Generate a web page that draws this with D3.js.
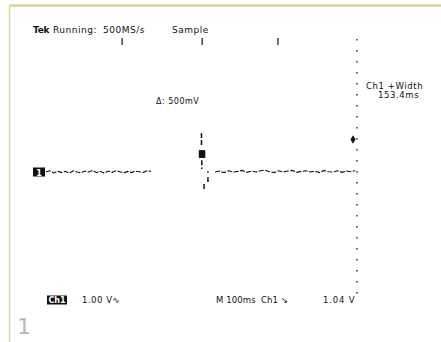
<!DOCTYPE html>
<html>
<head>
<meta charset="utf-8">
<script src="https://cdn.jsdelivr.net/npm/d3@7"></script>
<style>
  html, body { margin: 0; padding: 0; background: #fff; }
  svg { display: block; }
  text { font-family: "DejaVu Sans", sans-serif; }
</style>
</head>
<body>
<script>
// Scope capture: 10 horizontal divisions at 100 ms/div, 8 vertical divisions at 1 V/div
const timeDomain = [0, 1000];        // ms
const voltDomain = [-4, 4];          // V

// Channel 1 trace before the edge (time in ms, level in V)
const preTimes  = [40, 52, 64, 76, 88, 100, 112, 124, 136, 148, 160, 172, 184, 196, 208, 220, 232, 244, 256, 268, 280, 292, 304, 316, 328, 340, 352, 364];
const preVolts  = [0.00, 0.04, -0.03, 0.03, -0.02, 0.02, -0.04, 0.04, 0.00, -0.03, 0.03, 0.00, 0.05, -0.02, 0.02, -0.04, 0.03, -0.01, 0.04, 0.01, -0.03, 0.02, -0.02, 0.03, 0.01, -0.01, 0.04, 0.02];

// Channel 1 trace after the edge
const postTimes = [562, 576, 590, 604, 618, 632, 646, 660, 674, 688, 702, 716, 730, 744, 758, 772, 786, 800, 814, 828, 842, 856, 870, 884, 898, 912, 926, 940, 954, 968, 982, 994];
const postVolts = [0.00, 0.03, -0.02, 0.04, 0.00, 0.02, 0.05, -0.01, 0.03, 0.00, 0.04, 0.06, 0.01, -0.02, 0.04, 0.00, 0.03, 0.05, -0.01, 0.02, 0.04, 0.00, 0.03, -0.02, 0.05, 0.01, 0.00, 0.04, -0.01, 0.03, 0.01, 0.04];

// Vertical excursions around the edge: [time ms, from V, to V]
const edgeStrokes = [
  [520, 1.25, 0.83],
  [521, 0.38, 0.19],
  [540, -0.16, -0.32],
  [528, -0.38, -0.58]
];
const edgeBlock = [521, 0.70, 0.45];   // highlighted sample block on the edge
const edgeDots = [[540, 0.0], [521, 0.12]];

// Trigger position markers along the top (ms)
const markerTimes = [275, 522, 756];

// Readouts
const headerParts = [
  { t: "Tek", x: 0, bold: true },
  { t: "Running:", x: 20, bold: false },
  { t: "500MS/s", x: 70, bold: false },
  { t: "Sample", x: 139, bold: false }
];
const measLines = ["Ch1 +Width", "153.4ms"];
const cursorText = "\u0394: 500mV";
const chLabel = "Ch1";
const chScale = "1.00 V\u223F";
const timebase = ["M 100ms", "Ch1 \u2198"];
const trigLevel = 1.04;   // V
const panelNumber = "1";

const W = 441, H = 342;
const svg = d3.select("body").append("svg").attr("width", W).attr("height", H);
svg.append("rect").attr("width", W).attr("height", H).attr("fill", "#fff");

// Card frame
svg.append("line").attr("x1", 9).attr("x2", W).attr("y1", 5.5).attr("y2", 5.5)
  .attr("stroke", "#d6cc78").attr("stroke-width", 2);
svg.append("line").attr("x1", 9.5).attr("x2", 9.5).attr("y1", 5).attr("y2", H)
  .attr("stroke", "#e2da9a").attr("stroke-width", 1.5);
svg.append("text").attr("x", 17).attr("y", 334).text(panelNumber)
  .attr("font-family", "Open Sans, sans-serif").attr("font-size", 22)
  .attr("fill", "#b8b8b8");

const x = d3.scaleLinear().domain(timeDomain).range([33, 357]);
const y = d3.scaleLinear().domain(voltDomain).range([297, 47]);

const ink = "#111";

// Right-hand dotted graticule edge
svg.append("line").attr("x1", x(1000)).attr("x2", x(1000))
  .attr("y1", 39).attr("y2", 303)
  .attr("stroke", ink).attr("stroke-width", 1.3)
  .attr("stroke-dasharray", "1.4,9.6");

// Header
const header = svg.append("g").attr("transform", "translate(33,33)");
header.selectAll("text").data(headerParts).join("text")
  .attr("x", d => d.x).attr("font-size", 9)
  .attr("font-weight", d => d.bold ? "bold" : "normal")
  .attr("fill", ink).attr("letter-spacing", d => d.bold ? -0.3 : 0.5)
  .text(d => d.t);

// Trigger markers
svg.selectAll("line.mk").data(markerTimes).join("line").attr("class", "mk")
  .attr("x1", d => x(d)).attr("x2", d => x(d))
  .attr("y1", 38).attr("y2", 45)
  .attr("stroke", ink).attr("stroke-width", 1.2);

// Measurement readout
svg.selectAll("text.meas").data(measLines).join("text").attr("class", "meas")
  .attr("x", (d, i) => i === 0 ? 366 : 378)
  .attr("y", (d, i) => 89 + i * 8.5)
  .attr("font-size", 8.5).attr("fill", ink).attr("letter-spacing", 0.6)
  .text(d => d);

// Cursor readout
svg.append("text").attr("x", 156).attr("y", 104).attr("font-size", 8)
  .attr("fill", ink).attr("letter-spacing", 0.5).text(cursorText);

// Trace
const line = d3.line().x(d => x(d[0])).y(d => y(d[1]));
const pre = preTimes.map((t, i) => [t, preVolts[i]]);
const post = postTimes.map((t, i) => [t, postVolts[i]]);
[pre, post].forEach(seg => {
  svg.append("path").datum(seg).attr("d", line)
    .attr("fill", "none").attr("stroke", ink).attr("stroke-width", 1.1)
    .attr("stroke-dasharray", "5,1.5");
});
svg.selectAll("line.edge").data(edgeStrokes).join("line").attr("class", "edge")
  .attr("x1", d => x(d[0])).attr("x2", d => x(d[0]))
  .attr("y1", d => y(d[1])).attr("y2", d => y(d[2]))
  .attr("stroke", ink).attr("stroke-width", 1.5)
  .attr("stroke-dasharray", "5,2");
svg.append("rect")
  .attr("x", x(edgeBlock[0]) - 3).attr("width", 6.5)
  .attr("y", y(edgeBlock[1])).attr("height", y(edgeBlock[2]) - y(edgeBlock[1]))
  .attr("fill", ink);
svg.selectAll("rect.dot").data(edgeDots).join("rect").attr("class", "dot")
  .attr("x", d => x(d[0]) - 0.75).attr("y", d => y(d[1]) - 0.75)
  .attr("width", 1.5).attr("height", 1.5).attr("fill", ink);

// Ground reference marker
svg.append("rect").attr("x", 33).attr("y", y(0) - 4.5).attr("width", 12).attr("height", 9).attr("fill", ink);
svg.append("text").attr("x", 39).attr("y", y(0) + 3.5).attr("text-anchor", "middle")
  .attr("font-size", 8).attr("font-weight", "bold").attr("fill", "#fff").text("1");

// Trigger level marker on the right edge
svg.append("path").attr("d", d3.symbol(d3.symbolDiamond, 22)())
  .attr("transform", `translate(${x(1000) - 4},${y(trigLevel)})`).attr("fill", ink);

// Bottom status line
const by = 303;
svg.append("rect").attr("x", 47).attr("y", by - 7.5).attr("width", 20).attr("height", 9).attr("fill", ink);
svg.append("text").attr("x", 57).attr("y", by).attr("text-anchor", "middle")
  .attr("font-size", 8).attr("font-weight", "bold").attr("fill", "#fff").text(chLabel);
svg.append("text").attr("x", 82).attr("y", by).attr("font-size", 8.5)
  .attr("letter-spacing", 0.5).attr("fill", ink).text(chScale);
svg.selectAll("text.tb").data(timebase).join("text").attr("class", "tb")
  .attr("x", (d, i) => i === 0 ? 216 : 261).attr("y", by)
  .attr("font-size", 8.5).attr("letter-spacing", 0.1).attr("fill", ink).text(d => d);
svg.append("text").attr("x", 323).attr("y", by).attr("font-size", 8.5)
  .attr("letter-spacing", 0.8).attr("fill", ink)
  .text(d3.format(".2f")(trigLevel) + " V");
</script>
</body>
</html>
